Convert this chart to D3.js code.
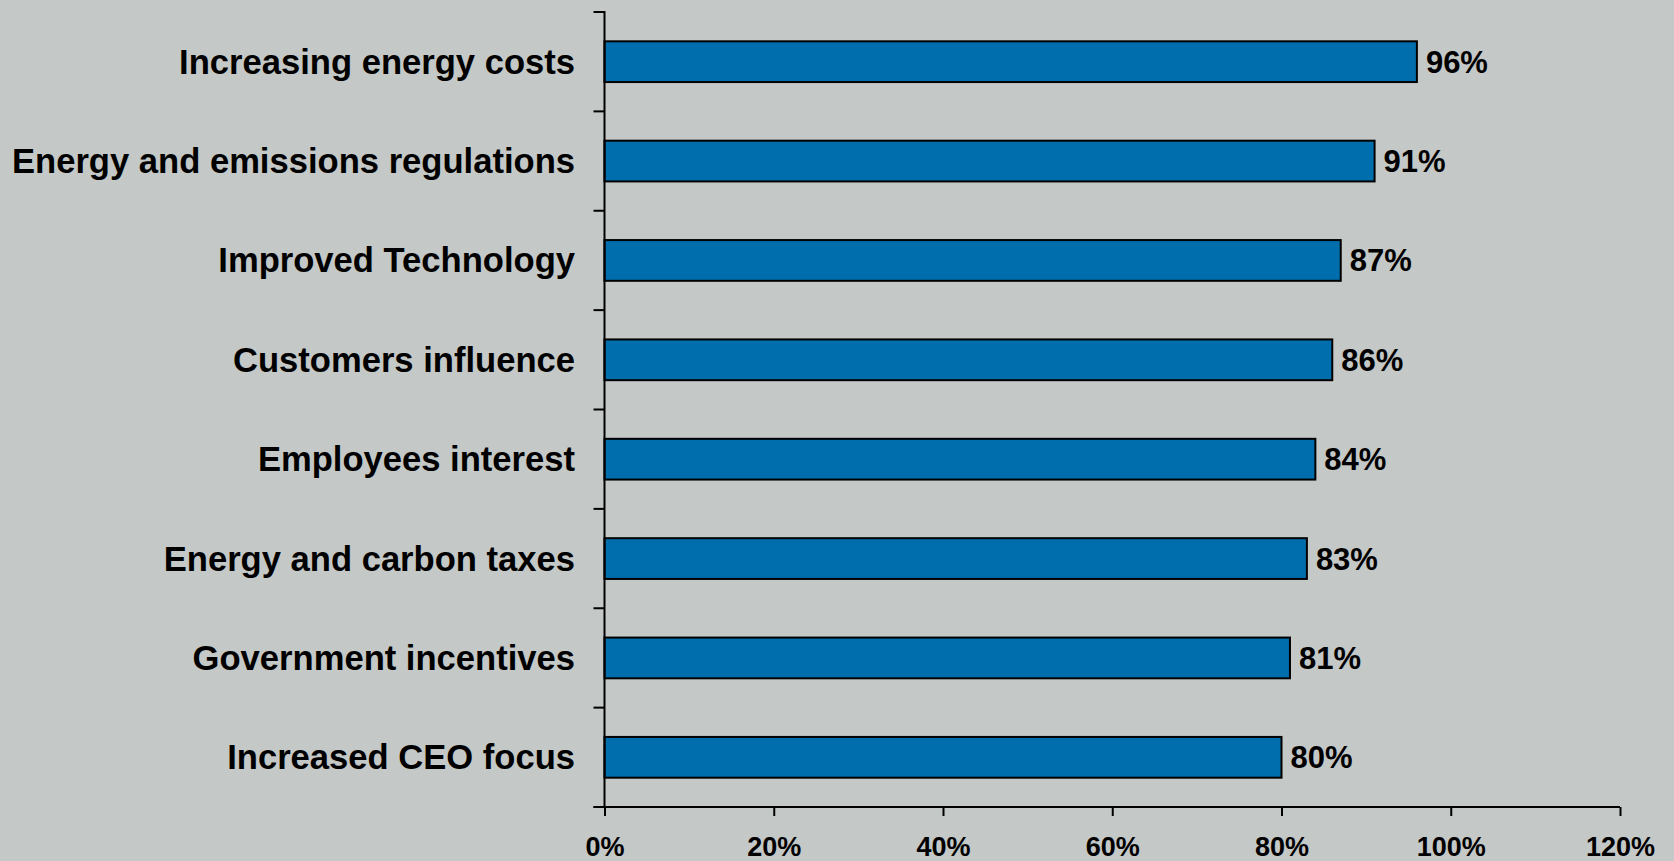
<!DOCTYPE html>
<html>
<head>
<meta charset="utf-8">
<script src="https://cdn.jsdelivr.net/npm/d3@7"></script>
<style>
  html, body { margin: 0; padding: 0; background: #c4c8c6; }
  svg { display: block; }
  text { font-family: "Liberation Sans", Arial, sans-serif; font-weight: bold; fill: #000; }
</style>
</head>
<body>
<svg id="chart" width="1674" height="861"></svg>
<script>
// Drivers of energy-efficiency investment, share of respondents
const categories = [
  "Increasing energy costs",
  "Energy and emissions regulations",
  "Improved Technology",
  "Customers influence",
  "Employees interest",
  "Energy and carbon taxes",
  "Government incentives",
  "Increased CEO focus"
];
const values = [96, 91, 87, 86, 84, 83, 81, 80];
const xTicks = [0, 20, 40, 60, 80, 100, 120];

const svg = d3.select("#chart");

const plotLeft = 604.5, plotRight = 1620, plotTop = 12, plotBottom = 807;

const x = d3.scaleLinear().domain([0, 120]).range([plotLeft, plotRight]);
const y = d3.scaleBand().domain(categories).range([plotTop, plotBottom])
  .paddingInner(0.59).paddingOuter(0.295);

// bars
svg.append("g").selectAll("rect")
  .data(values)
  .join("rect")
  .attr("x", x(0))
  .attr("y", (d, i) => y(categories[i]))
  .attr("width", d => x(d) - x(0))
  .attr("height", y.bandwidth())
  .attr("fill", "#006dac")
  .attr("stroke", "#000")
  .attr("stroke-width", 2);

// value labels
svg.append("g").selectAll("text")
  .data(values)
  .join("text")
  .attr("x", d => x(d) + 9)
  .attr("y", (d, i) => y(categories[i]) + y.bandwidth() / 2 + 11)
  .attr("font-size", 31)
  .text(d => d + "%");

// category labels
svg.append("g").selectAll("text")
  .data(categories)
  .join("text")
  .attr("x", 575)
  .attr("y", d => y(d) + y.bandwidth() / 2 + 12)
  .attr("text-anchor", "end")
  .attr("font-size", 34.6)
  .text(d => d);

// x axis
const xAxis = d3.axisBottom(x)
  .tickValues(xTicks)
  .tickSize(9)
  .tickSizeOuter(0)
  .tickPadding(21)
  .tickFormat(d => d + "%");
const gx = svg.append("g").attr("transform", `translate(0,${plotBottom})`).call(xAxis);
gx.select(".domain").attr("stroke", "#000").attr("stroke-width", 2)
  .attr("d", `M${plotLeft - 11},0H${plotRight}`);
gx.selectAll(".tick line").attr("stroke", "#000").attr("stroke-width", 2);
gx.selectAll(".tick text")
  .attr("font-size", 27)
  .attr("font-family", "Liberation Sans, Arial, sans-serif")
  .attr("font-weight", "bold")
  .attr("fill", "#000");

// y axis with ticks on category boundaries
const bounds = d3.range(categories.length + 1).map(i => plotTop + i * y.step());
const gy = svg.append("g");
gy.append("line")
  .attr("x1", plotLeft).attr("x2", plotLeft)
  .attr("y1", plotTop - 1).attr("y2", plotBottom)
  .attr("stroke", "#000").attr("stroke-width", 2);
gy.selectAll("line.tick")
  .data(bounds)
  .join("line")
  .attr("class", "tick")
  .attr("x1", plotLeft - 11).attr("x2", plotLeft)
  .attr("y1", d => d).attr("y2", d => d)
  .attr("stroke", "#000").attr("stroke-width", 2);
</script>
</body>
</html>
